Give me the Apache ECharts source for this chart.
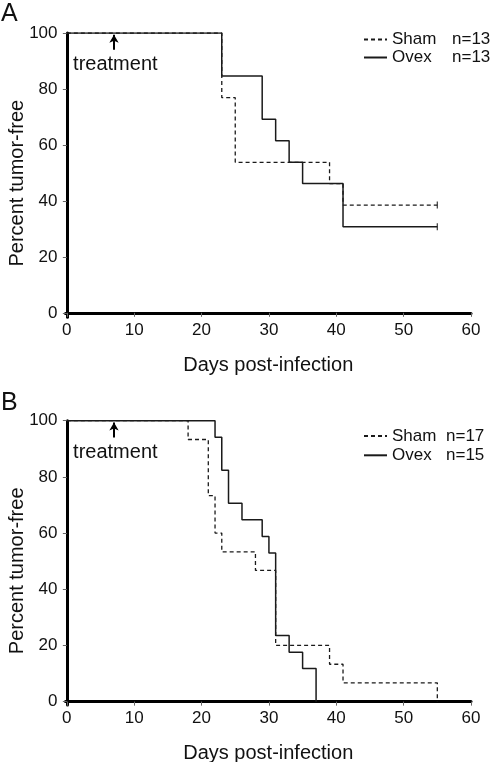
<!DOCTYPE html>
<html>
<head>
<meta charset="utf-8">
<script src="https://cdn.jsdelivr.net/npm/echarts@6/dist/echarts.min.js"></script>
<style>html,body{margin:0;padding:0;background:#fff}#c{width:492px;height:762px}</style>
</head>
<body>
<div id="c"></div>
<script>
// ---- data ----
const xTicks = [0, 10, 20, 30, 40, 50, 60];
const yTicks = [0, 20, 40, 60, 80, 100];

const shamA_days = [0, 23, 25, 39, 41, 55];
const shamA_pct  = [100, 76.9, 53.8, 46.2, 38.5, 38.5];
const ovexA_days = [0, 23, 29, 31, 33, 35, 41, 55];
const ovexA_pct  = [100, 84.6, 69.2, 61.5, 53.8, 46.2, 30.8, 30.8];
const censorA_days = [55, 55];
const censorA_pct  = [38.5, 30.8];

const shamB_days = [0, 18, 21, 22, 23, 28, 31, 39, 41, 55];
const shamB_pct  = [100, 93.3, 73.3, 60, 53.3, 46.7, 20, 13.3, 6.7, 0];
const ovexB_days = [0, 22, 23, 24, 26, 29, 30, 31, 33, 35, 37];
const ovexB_pct  = [100, 94.1, 82.4, 70.6, 64.7, 58.8, 52.9, 23.5, 17.6, 11.8, 0];

const legendA = {ShamA: ['Sham', 'n=13'], OvexA: ['Ovex', 'n=13']};
const legendB = {ShamB: ['Sham', 'n=17'], OvexB: ['Ovex', 'n=15']};
const treatmentDay = 7;

// ---- build ----
const zip = (a, b) => a.map((v, i) => [v, b[i]]);
const FONT = 'Liberation Sans, Arial, sans-serif';
const INK = '#111';

function xAxis(gi) {
  return {
    gridIndex: gi, type: 'value', min: -0.2, max: 60,
    name: 'Days post-infection', nameLocation: 'middle', nameGap: 38, nameMoveOverlap: false,
    nameTextStyle: {fontFamily: FONT, fontSize: 20, color: INK},
    axisLine: {lineStyle: {color: '#000', width: 3}},
    axisTick: {show: true, length: 4, customValues: xTicks, lineStyle: {color: '#666', width: 1}},
    axisLabel: {customValues: xTicks, margin: 5, fontFamily: FONT, fontSize: 17, color: INK},
    splitLine: {show: false}
  };
}
function yAxis(gi, min) {
  return {
    gridIndex: gi, type: 'value', min: min, max: 100,
    name: 'Percent tumor-free', nameLocation: 'middle', nameGap: 38, nameMoveOverlap: false,
    nameTextStyle: {fontFamily: FONT, fontSize: 20, color: INK, padding: [0, 16, 0, 0]},
    axisLine: {show: true, lineStyle: {color: '#000', width: 3}},
    axisTick: {show: true, length: 4, customValues: yTicks, lineStyle: {color: '#666', width: 1}},
    axisLabel: {customValues: yTicks, margin: 8, fontFamily: FONT, fontSize: 17, color: INK},
    splitLine: {show: false}
  };
}
function stepSeries(name, gi, days, pct, dashed) {
  return {
    name: name, type: 'line', step: 'end', xAxisIndex: gi, yAxisIndex: gi,
    data: zip(days, pct), symbol: 'none', silent: true,
    lineStyle: {color: '#1a1a1a', width: dashed ? 1.3 : 1.5, type: dashed ? [4, 3] : 'solid'},
    itemStyle: {color: '#1a1a1a'}
  };
}
function annotation(gi) {
  return {
    type: 'line', xAxisIndex: gi, yAxisIndex: gi, data: [], silent: true,
    markLine: {
      silent: true, symbol: ['none', 'arrow'], symbolSize: [7, 8], label: {show: false},
      lineStyle: {color: '#000', width: 2, type: 'solid'},
      data: [[{coord: [treatmentDay, 94]}, {coord: [treatmentDay, 99.4]}]]
    },
    markPoint: {
      silent: true, symbol: 'circle', symbolSize: 1, itemStyle: {color: 'rgba(0,0,0,0)'},
      label: {show: true, position: 'right', distance: 0, formatter: 'treatment',
              fontFamily: FONT, fontSize: 20, color: INK},
      data: [{coord: [0.85, 88.6]}]
    }
  };
}
function legend(map, top, colW, gap) {
  return {
    data: Object.keys(map), orient: 'vertical', left: 363, top: top,
    itemWidth: 23, itemHeight: 12, itemGap: gap, padding: 0, selectedMode: false,
    itemStyle: {opacity: 0},
    formatter: n => `{a|${map[n][0]}}{b|${map[n][1]}}`,
    textStyle: {fontFamily: FONT, fontSize: 17, color: INK, lineHeight: 18,
      rich: {a: {width: colW, fontFamily: FONT, fontSize: 17, color: INK, lineHeight: 18},
             b: {fontFamily: FONT, fontSize: 17, color: INK, lineHeight: 18}}}
  };
}

const option = {
  animation: false,
  title: [
    {text: 'A', left: 1, top: 2, padding: 0, textStyle: {fontFamily: FONT, fontSize: 25, fontWeight: 'normal', color: INK}},
    {text: 'B', left: 1, top: 391, padding: 0, textStyle: {fontFamily: FONT, fontSize: 25, fontWeight: 'normal', color: INK}}
  ],
  legend: [legend(legendA, 30.5, 60, 0), legend(legendB, 427, 54, 1.3)],
  grid: [
    {left: 65.5, top: 33, width: 405.5, height: 284.3, containLabel: false, outerBoundsMode: 'none'},
    {left: 65.5, top: 420.7, width: 405.5, height: 284.3, containLabel: false, outerBoundsMode: 'none'}
  ],
  xAxis: [xAxis(0), xAxis(1)],
  yAxis: [yAxis(0, -1.6), yAxis(1, -1.2)],
  series: [
    stepSeries('ShamA', 0, shamA_days, shamA_pct, true),
    stepSeries('OvexA', 0, ovexA_days, ovexA_pct, false),
    {type: 'scatter', xAxisIndex: 0, yAxisIndex: 0, data: zip(censorA_days, censorA_pct),
     symbol: 'rect', symbolSize: [1.3, 7], itemStyle: {color: '#1a1a1a'}, silent: true},
    annotation(0),
    stepSeries('ShamB', 1, shamB_days, shamB_pct, true),
    stepSeries('OvexB', 1, ovexB_days, ovexB_pct, false),
    annotation(1)
  ]
};
echarts.init(document.getElementById('c')).setOption(option);
</script>
</body>
</html>
